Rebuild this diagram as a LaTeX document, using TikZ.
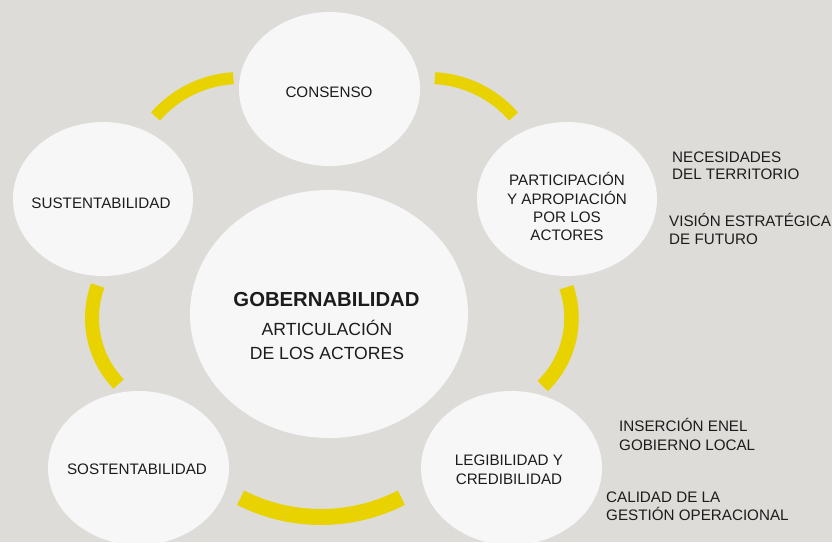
\documentclass[tikz,border=0pt]{standalone}
\usepackage{fontspec}
\setmainfont{Liberation Sans}
\usetikzlibrary{shapes.geometric}
\definecolor{bgc}{HTML}{DDDCD8}
\definecolor{ovc}{HTML}{F7F7F7}
\definecolor{ylw}{HTML}{E8D300}
\definecolor{txc}{HTML}{1C1C1C}
\tikzset{
  oval/.style={ellipse, fill=ovc, draw=none, inner sep=0pt},
  ring/.style={draw=ylw, line cap=butt},
  lbl/.style={inner sep=0pt, anchor=base, text=txc, font=\fontsize{15.2}{18}\selectfont},
  side/.style={lbl, anchor=base west},
  big/.style={inner sep=0pt, anchor=base, text=txc, font=\fontsize{20.3}{24}\selectfont\bfseries},
  sub/.style={inner sep=0pt, anchor=base, text=txc, font=\fontsize{17.6}{22}\selectfont}
}
\begin{document}
\begin{tikzpicture}[x=1pt, y=-1pt]
\useasboundingbox (0,0) rectangle (832,542);
\fill[bgc] (0,0) rectangle (832,542);
% arc centres
\coordinate (cTL) at (240,190);
\coordinate (cTR) at (429,190);
\coordinate (cR) at (477,318);
\coordinate (cL) at (187,318);
\coordinate (cB) at (321,340);
% yellow arcs
\draw[ring, line width=12pt] (cTL) ++(-93.4:112) arc[start angle=-93.4, end angle=-139, radius=112];
\draw[ring, line width=12pt] (cTR) ++(-41:112) arc[start angle=-41, end angle=-87, radius=112];
\draw[ring, line width=14.5pt] (cR) ++(-19:94.5) arc[start angle=-19, end angle=46, radius=94.5];
\draw[ring, line width=14pt] (cL) ++(-160:95) arc[start angle=-160, end angle=-224, radius=95];
\draw[ring, line width=16pt] (cB) ++(-243:177) arc[start angle=-243, end angle=-297, radius=177];
% ovals
\node[oval, minimum width=181pt, minimum height=154pt] (consenso) at (329.5,89) {};
\node[oval, minimum width=180pt, minimum height=154pt] (sust) at (103,199) {};
\node[oval, minimum width=180pt, minimum height=154pt] (part) at (567,199) {};
\node[oval, minimum width=278pt, minimum height=248pt] (gob) at (329,314) {};
\node[oval, minimum width=181pt, minimum height=154pt] (sost) at (138.5,468) {};
\node[oval, minimum width=181pt, minimum height=154pt] (legi) at (511.5,468) {};
% oval texts
\node[lbl] (t1) at (329,97.3) {CONSENSO};
\node[lbl] (t2) at (101,208.3) {SUSTENTABILIDAD};
\node[lbl] (t3) at (137,474) {SOSTENTABILIDAD};
\node[lbl] (t4a) at (509,465) {LEGIBILIDAD Y};
\node[lbl] (t4b) at (509,484) {CREDIBILIDAD};
\node[lbl] (t5a) at (567,185.7) {PARTICIPACIÓN};
\node[lbl] (t5b) at (567,204) {Y APROPIACIÓN};
\node[lbl] (t5c) at (567,222.7) {POR LOS};
\node[lbl] (t5d) at (567,240.7) {ACTORES};
\node[big] (g1) at (326.5,306) {GOBERNABILIDAD};
\node[sub] (g2) at (327,335.7) {ARTICULACIÓN};
\node[sub] (g3) at (327,359) {DE LOS ACTORES};
% side texts
\node[side] (s1) at (672,162) {NECESIDADES};
\node[side] (s2) at (672,179.5) {DEL TERRITORIO};
\node[side] (s3) at (669,226) {VISIÓN ESTRATÉGICA};
\node[side] (s4) at (669,244) {DE FUTURO};
\node[side] (s5) at (619,431) {INSERCIÓN ENEL};
\node[side] (s6) at (619,450) {GOBIERNO LOCAL};
\node[side] (s7) at (606,502.7) {CALIDAD DE LA};
\node[side] (s8) at (606,520.7) {GESTIÓN OPERACIONAL};
\end{tikzpicture}
\end{document}
